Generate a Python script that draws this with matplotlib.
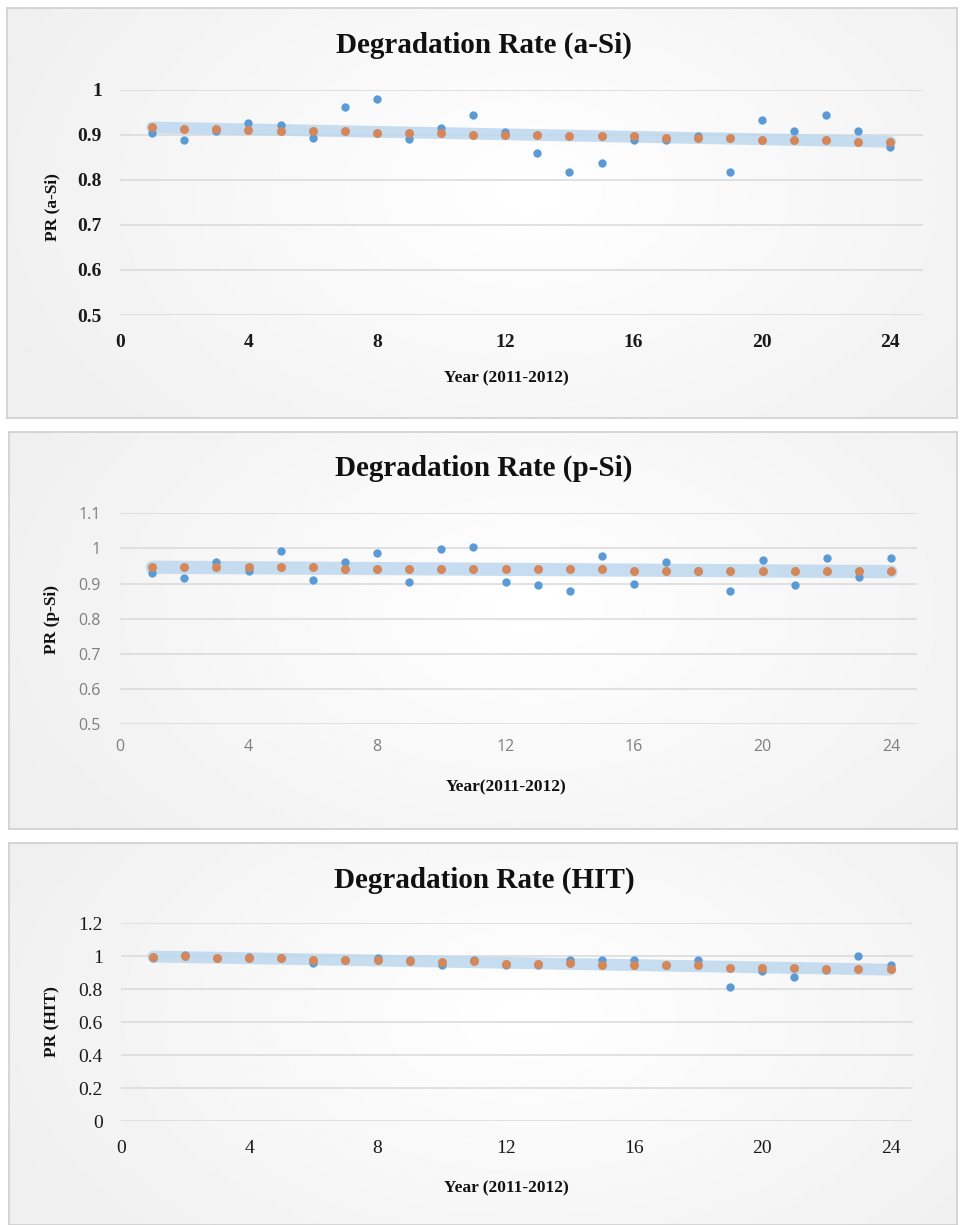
import numpy as np
import matplotlib
matplotlib.use("Agg")
import matplotlib.pyplot as plt

# ---------------- data ----------------
years = list(range(1, 25))

asi_measured = [0.904, 0.887, 0.909, 0.926, 0.922, 0.892, 0.961, 0.980, 0.891, 0.914, 0.944, 0.906,
                0.860, 0.816, 0.836, 0.887, 0.887, 0.897, 0.816, 0.932, 0.908, 0.944, 0.908, 0.872]
asi_predicted = [0.917, 0.913, 0.912, 0.911, 0.907, 0.909, 0.908, 0.904, 0.904, 0.904, 0.900, 0.900,
                 0.900, 0.896, 0.896, 0.897, 0.892, 0.892, 0.892, 0.888, 0.888, 0.888, 0.884, 0.884]

psi_measured = [0.929, 0.916, 0.962, 0.936, 0.993, 0.910, 0.962, 0.988, 0.905, 0.999, 1.003, 0.905,
                0.895, 0.880, 0.977, 0.900, 0.962, 0.936, 0.880, 0.967, 0.895, 0.972, 0.920, 0.972]
psi_predicted = [0.947, 0.947, 0.946, 0.946, 0.946, 0.946, 0.941, 0.941, 0.941, 0.941, 0.941, 0.941,
                 0.941, 0.941, 0.941, 0.936, 0.936, 0.936, 0.936, 0.936, 0.936, 0.936, 0.936, 0.936]

hit_measured = [0.991, 1.008, 0.990, 0.997, 0.988, 0.957, 0.977, 0.988, 0.977, 0.945, 0.977, 0.947,
                0.947, 0.977, 0.977, 0.977, 0.945, 0.977, 0.811, 0.912, 0.876, 0.916, 1.000, 0.945]
hit_predicted = [0.997, 1.003, 0.988, 0.990, 0.988, 0.977, 0.977, 0.979, 0.971, 0.965, 0.971, 0.955,
                 0.955, 0.957, 0.945, 0.945, 0.945, 0.945, 0.931, 0.931, 0.931, 0.921, 0.921, 0.921]

titles = ["Degradation Rate (a-Si)", "Degradation Rate (p-Si)", "Degradation Rate (HIT)"]
ylabels = ["PR (a-Si)", "PR (p-Si)", "PR (HIT)"]
xlabels = ["Year (2011-2012)", "Year(2011-2012)", "Year (2011-2012)"]
yticks_list = [[0.5, 0.6, 0.7, 0.8, 0.9, 1.0],
               [0.5, 0.6, 0.7, 0.8, 0.9, 1.0, 1.1],
               [0, 0.2, 0.4, 0.6, 0.8, 1.0, 1.2]]
ytick_labels = [["0.5", "0.6", "0.7", "0.8", "0.9", "1"],
                ["0.5", "0.6", "0.7", "0.8", "0.9", "1", "1.1"],
                ["0", "0.2", "0.4", "0.6", "0.8", "1", "1.2"]]
xticks = [0, 4, 8, 12, 16, 20, 24]

# ---------------- layout ----------------
W, H = 961, 1225
fig = plt.figure(figsize=(W / 100, H / 100), dpi=100)
fig.patch.set_facecolor("white")

def rect(l, t, r, b):
    return [l / W, 1 - b / H, (r - l) / W, (b - t) / H]

BLUE = "#5B9BD5"
ORANGE = "#D4875A"
BAND = "#BDD7EE"
GRID = "#D9D9D9"

panels = [
    dict(box=(7, 8, 957, 418), ax=(120, 89.5, 922.5, 315), xmax=25.0, ylim=(0.5, 1.0),
         title_y=45, ylabel_y=207, xlabel_y=378, tick_style="bold", band_lw=8.5,
         meas=asi_measured, pred=asi_predicted),
    dict(box=(9, 432, 957, 829), ax=(120, 513.3, 916.7, 724), xmax=24.8, ylim=(0.5, 1.1),
         title_y=468, ylabel_y=620, xlabel_y=787, tick_style="gray", band_lw=9.5,
         meas=psi_measured, pred=psi_predicted),
    dict(box=(9, 843, 957, 1225), ax=(121, 923.3, 913, 1121), xmax=24.7, ylim=(0.0, 1.2),
         title_y=880, ylabel_y=1022, xlabel_y=1188, tick_style="serif", band_lw=8.5,
         meas=hit_measured, pred=hit_predicted),
]

gy, gx = np.mgrid[0:1:200j, 0:1:400j]
grad = 1 - 0.06 * np.clip(np.sqrt(((gx - 0.55) / 0.6) ** 2 + ((gy - 0.45) / 0.9) ** 2), 0, 1)

for i, p in enumerate(panels):
    l, t, r, b = p["box"]
    bg = fig.add_axes(rect(l, t, r, b))
    bg.imshow(grad, cmap="gray", vmin=0, vmax=1, aspect="auto", extent=(0, 1, 0, 1))
    bg.set_xticks([]); bg.set_yticks([])
    for s in bg.spines.values():
        s.set_color("#CFCFCF"); s.set_linewidth(1.2)

    ax = fig.add_axes(rect(*p["ax"]))
    ax.set_facecolor("none")
    ax.set_xlim(0, p["xmax"])
    ax.set_ylim(*p["ylim"])
    for s in ax.spines.values():
        s.set_visible(False)
    ax.set_yticks(yticks_list[i])
    ax.set_yticklabels(ytick_labels[i])
    ax.set_xticks(xticks)
    ax.set_xticklabels([str(v) for v in xticks])
    ax.tick_params(length=0)
    ax.yaxis.grid(True, color=GRID, linewidth=1.1)
    ax.set_axisbelow(True)

    if p["tick_style"] == "bold":
        fk = dict(family="Liberation Serif", weight="bold", size=14, color="#1a1a1a")
        ax.tick_params(axis="x", pad=14)
        ax.tick_params(axis="y", pad=13)
    elif p["tick_style"] == "gray":
        fk = dict(family="Open Sans", weight="normal", size=11.5, color="#7F7F7F")
        ax.tick_params(axis="x", pad=11)
        ax.tick_params(axis="y", pad=14)
    else:
        fk = dict(family="Liberation Serif", weight="normal", size=14, color="#1a1a1a")
        ax.tick_params(axis="x", pad=14)
        ax.tick_params(axis="y", pad=13)
    for lab in ax.get_xticklabels() + ax.get_yticklabels():
        lab.set_fontfamily(fk["family"]); lab.set_fontweight(fk["weight"])
        lab.set_fontsize(fk["size"]); lab.set_color(fk["color"])

    x = np.array(years, dtype=float)
    ym = np.array(p["meas"])
    coef = np.polyfit(x, ym, 1)
    xt = np.array([x[0], x[-1]])
    ax.plot(xt, np.polyval(coef, xt), color=BAND, linewidth=p["band_lw"],
            solid_capstyle="round", alpha=0.85, zorder=2)
    ax.scatter(x, ym, s=36, color=BLUE, zorder=3, linewidths=0)
    ax.scatter(x, p["pred"], s=42, color=ORANGE, zorder=4, linewidths=0)

    fig.text(484 / W, 1 - p["title_y"] / H, titles[i], ha="center", va="center",
             family="Liberation Serif", weight="bold", size=21, color="#111111")
    fig.text(52 / W, 1 - p["ylabel_y"] / H, ylabels[i], ha="center", va="center",
             rotation=90, family="Liberation Serif", weight="bold", size=12.5, color="#111111")
    fig.text(506 / W, 1 - p["xlabel_y"] / H, xlabels[i], ha="center", va="center",
             family="Liberation Serif", weight="bold", size=12.5, color="#111111")

fig.savefig("out.png", dpi=100, facecolor="white")
